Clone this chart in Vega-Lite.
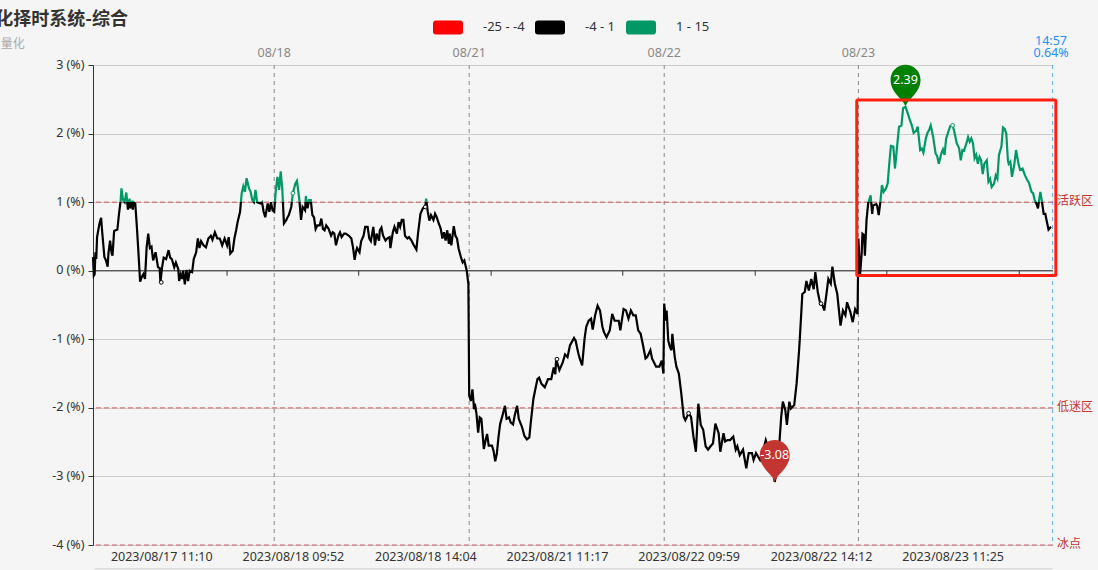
{"$schema":"https://vega.github.io/schema/vega-lite/v6.json","width":960,"height":480,"autosize":{"type":"none"},"padding":{"left":93,"top":65,"right":45,"bottom":25},"background":"#f5f5f5","config":{"view":{"stroke":null},"font":"Noto Sans CJK SC","text":{"font":"Noto Sans CJK SC"}},
"datasets":{"series":[
{"t":0,"v":0.2},{"t":1,"v":-0.07},{"t":2,"v":-0.05},{"t":3,"v":0.27},{"t":4,"v":0.17},{"t":5,"v":0.49},{"t":8,"v":0.69},{"t":10,"v":0.77},{"t":11,"v":0.61},{"t":14,"v":0.2},{"t":16,"v":0.15},{"t":18,"v":0.06},{"t":19,"v":0.25},{"t":21,"v":0.44},{"t":23,"v":0.25},{"t":24,"v":0.22},{"t":26,"v":0.58},{"t":30,"v":0.6},{"t":32,"v":0.83},{"t":34,"v":1.02},{"t":35,"v":1.2},{"t":37,"v":1.03},{"t":39,"v":1},{"t":41,"v":1.14},{"t":43,"v":0.89},{"t":45,"v":1.05},{"t":46,"v":0.91},{"t":48,"v":1.02},{"t":49,"v":0.89},{"t":50,"v":1},{"t":52,"v":0.98},{"t":54,"v":0.64},{"t":56,"v":0.25},{"t":58,"v":-0.16},{"t":60,"v":-0.09},{"t":62,"v":-0.05},{"t":64,"v":-0.12},{"t":66,"v":0.34},{"t":68,"v":0.54},{"t":70,"v":0.33},{"t":72,"v":0.35},{"t":74,"v":0.15},{"t":77,"v":0.27},{"t":80,"v":0.05},{"t":82,"v":0.04},{"t":83,"v":-0.17},{"t":85,"v":0.05},{"t":87,"v":0.19},{"t":90,"v":0.17},{"t":93,"v":0.3},{"t":95,"v":0.19},{"t":97,"v":0.17},{"t":100,"v":0.05},{"t":102,"v":0.12},{"t":105,"v":0.02},{"t":106,"v":-0.15},{"t":108,"v":-0.05},{"t":110,"v":-0.12},{"t":111,"v":0},{"t":113,"v":-0.2},{"t":115,"v":0.01},{"t":117,"v":-0.15},{"t":119,"v":0},{"t":122,"v":-0.02},{"t":124,"v":0.17},{"t":127,"v":0.27},{"t":129,"v":0.47},{"t":131,"v":0.33},{"t":133,"v":0.43},{"t":136,"v":0.37},{"t":139,"v":0.34},{"t":142,"v":0.47},{"t":145,"v":0.51},{"t":147,"v":0.45},{"t":150,"v":0.56},{"t":153,"v":0.47},{"t":156,"v":0.47},{"t":159,"v":0.37},{"t":162,"v":0.47},{"t":165,"v":0.37},{"t":167,"v":0.49},{"t":169,"v":0.25},{"t":172,"v":0.29},{"t":174,"v":0.47},{"t":176,"v":0.58},{"t":178,"v":0.71},{"t":181,"v":0.86},{"t":183,"v":1.13},{"t":185,"v":1.23},{"t":187,"v":1.15},{"t":189,"v":1.35},{"t":192,"v":1.2},{"t":194,"v":1.15},{"t":196,"v":1.03},{"t":198,"v":1},{"t":200,"v":1.18},{"t":202,"v":1},{"t":206,"v":0.98},{"t":208,"v":1},{"t":210,"v":0.86},{"t":212,"v":0.78},{"t":215,"v":0.98},{"t":217,"v":0.86},{"t":219,"v":1},{"t":221,"v":0.88},{"t":223,"v":0.86},{"t":225,"v":1.18},{"t":227,"v":1.37},{"t":229,"v":1.18},{"t":231,"v":1.45},{"t":233,"v":1.18},{"t":235,"v":0.69},{"t":238,"v":0.74},{"t":239,"v":0.77},{"t":241,"v":0.81},{"t":244,"v":0.93},{"t":246,"v":1.13},{"t":249,"v":1.27},{"t":251,"v":1.31},{"t":254,"v":1.03},{"t":256,"v":0.74},{"t":258,"v":0.93},{"t":261,"v":0.88},{"t":262,"v":1.09},{"t":264,"v":0.91},{"t":266,"v":1.03},{"t":268,"v":1.03},{"t":270,"v":0.81},{"t":272,"v":0.78},{"t":274,"v":0.61},{"t":276,"v":0.66},{"t":279,"v":0.66},{"t":281,"v":0.76},{"t":283,"v":0.61},{"t":285,"v":0.59},{"t":287,"v":0.66},{"t":290,"v":0.61},{"t":293,"v":0.51},{"t":295,"v":0.56},{"t":297,"v":0.54},{"t":299,"v":0.37},{"t":302,"v":0.51},{"t":304,"v":0.56},{"t":306,"v":0.49},{"t":309,"v":0.54},{"t":311,"v":0.54},{"t":315,"v":0.51},{"t":318,"v":0.47},{"t":320,"v":0.34},{"t":322,"v":0.16},{"t":324,"v":0.29},{"t":325,"v":0.33},{"t":328,"v":0.27},{"t":330,"v":0.43},{"t":333,"v":0.51},{"t":335,"v":0.64},{"t":338,"v":0.64},{"t":340,"v":0.47},{"t":342,"v":0.43},{"t":345,"v":0.64},{"t":347,"v":0.37},{"t":349,"v":0.54},{"t":352,"v":0.44},{"t":353,"v":0.59},{"t":355,"v":0.63},{"t":357,"v":0.51},{"t":360,"v":0.44},{"t":362,"v":0.47},{"t":365,"v":0.49},{"t":366,"v":0.33},{"t":369,"v":0.56},{"t":371,"v":0.64},{"t":374,"v":0.54},{"t":376,"v":0.71},{"t":378,"v":0.64},{"t":380,"v":0.74},{"t":382,"v":0.74},{"t":384,"v":0.51},{"t":387,"v":0.47},{"t":389,"v":0.49},{"t":392,"v":0.44},{"t":394,"v":0.39},{"t":398,"v":0.31},{"t":400,"v":0.54},{"t":403,"v":0.83},{"t":406,"v":0.91},{"t":409,"v":0.93},{"t":410,"v":1.05},{"t":412,"v":0.86},{"t":414,"v":0.73},{"t":416,"v":0.81},{"t":419,"v":0.74},{"t":421,"v":0.83},{"t":423,"v":0.78},{"t":425,"v":0.71},{"t":428,"v":0.61},{"t":430,"v":0.47},{"t":432,"v":0.56},{"t":434,"v":0.44},{"t":436,"v":0.59},{"t":438,"v":0.39},{"t":439,"v":0.54},{"t":441,"v":0.37},{"t":444,"v":0.65},{"t":446,"v":0.51},{"t":448,"v":0.47},{"t":450,"v":0.32},{"t":453,"v":0.19},{"t":455,"v":0.12},{"t":457,"v":0.15},{"t":460,"v":0},{"t":462,"v":-0.2},{"t":463,"v":-1.82},{"t":465,"v":-1.9},{"t":467,"v":-1.73},{"t":469,"v":-2.02},{"t":470,"v":-1.94},{"t":472,"v":-2.09},{"t":474,"v":-2.36},{"t":476,"v":-2.14},{"t":478,"v":-2.16},{"t":481,"v":-2.6},{"t":483,"v":-2.48},{"t":485,"v":-2.38},{"t":487,"v":-2.55},{"t":491,"v":-2.55},{"t":493,"v":-2.63},{"t":495,"v":-2.78},{"t":497,"v":-2.67},{"t":499,"v":-2.43},{"t":501,"v":-2.24},{"t":504,"v":-2.11},{"t":507,"v":-1.97},{"t":509,"v":-2.16},{"t":512,"v":-2.14},{"t":514,"v":-2.21},{"t":517,"v":-2.24},{"t":519,"v":-2.11},{"t":522,"v":-1.97},{"t":524,"v":-2.16},{"t":528,"v":-2.28},{"t":531,"v":-2.41},{"t":534,"v":-2.46},{"t":537,"v":-2.43},{"t":539,"v":-2.19},{"t":542,"v":-1.87},{"t":544,"v":-1.75},{"t":547,"v":-1.58},{"t":549,"v":-1.56},{"t":552,"v":-1.65},{"t":556,"v":-1.7},{"t":560,"v":-1.58},{"t":564,"v":-1.58},{"t":567,"v":-1.41},{"t":569,"v":-1.51},{"t":570,"v":-1.29},{"t":574,"v":-1.45},{"t":578,"v":-1.34},{"t":581,"v":-1.22},{"t":584,"v":-1.26},{"t":587,"v":-1.09},{"t":592,"v":-0.98},{"t":594,"v":-1.02},{"t":597,"v":-1.19},{"t":599,"v":-1.28},{"t":602,"v":-1.38},{"t":605,"v":-0.99},{"t":607,"v":-0.82},{"t":610,"v":-0.73},{"t":613,"v":-0.7},{"t":615,"v":-0.86},{"t":618,"v":-0.65},{"t":621,"v":-0.51},{"t":624,"v":-0.58},{"t":627,"v":-0.82},{"t":629,"v":-0.9},{"t":632,"v":-0.97},{"t":636,"v":-0.87},{"t":639,"v":-0.63},{"t":642,"v":-0.73},{"t":647,"v":-0.73},{"t":649,"v":-0.87},{"t":653,"v":-0.56},{"t":656,"v":-0.58},{"t":659,"v":-0.7},{"t":662,"v":-0.58},{"t":665,"v":-0.65},{"t":668,"v":-0.65},{"t":671,"v":-0.87},{"t":674,"v":-0.92},{"t":677,"v":-1.09},{"t":680,"v":-1.28},{"t":682,"v":-1.26},{"t":686,"v":-1.16},{"t":688,"v":-1.28},{"t":693,"v":-1.4},{"t":697,"v":-1.4},{"t":700,"v":-1.31},{"t":702,"v":-1.5},{"t":703,"v":-0.48},{"t":705,"v":-0.73},{"t":706,"v":-0.58},{"t":708,"v":-1.02},{"t":710,"v":-1.11},{"t":712,"v":-1.16},{"t":713,"v":-0.92},{"t":716,"v":-1.26},{"t":718,"v":-1.4},{"t":721,"v":-1.5},{"t":724,"v":-1.79},{"t":727,"v":-2.13},{"t":729,"v":-2.18},{"t":733,"v":-2.08},{"t":736,"v":-2.13},{"t":739,"v":-2.42},{"t":742,"v":-2.64},{"t":745,"v":-1.94},{"t":748,"v":-2.25},{"t":751,"v":-2.32},{"t":754,"v":-2.56},{"t":757,"v":-2.61},{"t":760,"v":-2.56},{"t":763,"v":-2.52},{"t":766,"v":-2.23},{"t":770,"v":-2.37},{"t":772,"v":-2.64},{"t":776,"v":-2.37},{"t":778,"v":-2.49},{"t":781,"v":-2.47},{"t":784,"v":-2.47},{"t":788,"v":-2.42},{"t":791,"v":-2.61},{"t":793,"v":-2.56},{"t":796,"v":-2.69},{"t":800,"v":-2.61},{"t":804,"v":-2.88},{"t":807,"v":-2.66},{"t":811,"v":-2.66},{"t":813,"v":-2.76},{"t":816,"v":-2.66},{"t":821,"v":-2.76},{"t":824,"v":-2.66},{"t":828,"v":-2.47},{"t":833,"v":-2.66},{"t":836,"v":-2.85},{"t":839,"v":-3.08},{"t":842,"v":-2.9},{"t":845,"v":-2.47},{"t":847,"v":-2.13},{"t":849,"v":-1.91},{"t":852,"v":-2.03},{"t":854,"v":-2.25},{"t":857,"v":-1.91},{"t":859,"v":-2.01},{"t":863,"v":-1.96},{"t":866,"v":-1.64},{"t":869,"v":-1.16},{"t":870,"v":-0.97},{"t":873,"v":-0.34},{"t":876,"v":-0.31},{"t":878,"v":-0.15},{"t":881,"v":-0.29},{"t":884,"v":-0.12},{"t":887,"v":-0.27},{"t":889,"v":-0.02},{"t":892,"v":-0.31},{"t":895,"v":-0.48},{"t":898,"v":-0.51},{"t":900,"v":-0.58},{"t":903,"v":-0.31},{"t":905,"v":-0.12},{"t":908,"v":-0.19},{"t":910,"v":0.06},{"t":913,"v":-0.19},{"t":916,"v":-0.34},{"t":920,"v":-0.8},{"t":923,"v":-0.58},{"t":926,"v":-0.65},{"t":928,"v":-0.46},{"t":932,"v":-0.6},{"t":935,"v":-0.75},{"t":938,"v":-0.56},{"t":941,"v":-0.63},{"t":942,"v":0.47},{"t":944,"v":-0.07},{"t":946,"v":0.25},{"t":947,"v":0.54},{"t":949,"v":0.52},{"t":950,"v":0.22},{"t":952,"v":0.74},{"t":954,"v":0.98},{"t":957,"v":1.1},{"t":959,"v":0.83},{"t":960,"v":0.95},{"t":964,"v":0.97},{"t":965,"v":0.95},{"t":967,"v":0.81},{"t":969,"v":1},{"t":971,"v":1.25},{"t":973,"v":1.15},{"t":976,"v":1.2},{"t":978,"v":1.27},{"t":980,"v":1.56},{"t":982,"v":1.82},{"t":985,"v":1.81},{"t":987,"v":1.49},{"t":990,"v":1.86},{"t":992,"v":2.1},{"t":995,"v":2.12},{"t":997,"v":2.37},{"t":1000,"v":2.39},{"t":1002,"v":2.32},{"t":1005,"v":2.21},{"t":1008,"v":2.11},{"t":1010,"v":2.01},{"t":1013,"v":2.04},{"t":1015,"v":2.1},{"t":1018,"v":1.76},{"t":1020,"v":1.78},{"t":1022,"v":1.72},{"t":1025,"v":1.93},{"t":1027,"v":2.01},{"t":1029,"v":2.05},{"t":1031,"v":2.12},{"t":1034,"v":1.95},{"t":1037,"v":1.71},{"t":1039,"v":1.67},{"t":1041,"v":1.56},{"t":1044,"v":1.71},{"t":1046,"v":1.77},{"t":1048,"v":1.69},{"t":1050,"v":1.93},{"t":1052,"v":2},{"t":1055,"v":2.11},{"t":1058,"v":2.12},{"t":1060,"v":2.03},{"t":1063,"v":1.86},{"t":1065,"v":1.81},{"t":1066,"v":1.78},{"t":1068,"v":1.61},{"t":1070,"v":1.76},{"t":1072,"v":1.75},{"t":1075,"v":1.86},{"t":1077,"v":1.95},{"t":1079,"v":1.88},{"t":1081,"v":1.93},{"t":1083,"v":1.86},{"t":1085,"v":1.64},{"t":1087,"v":1.69},{"t":1089,"v":1.56},{"t":1091,"v":1.66},{"t":1093,"v":1.61},{"t":1095,"v":1.41},{"t":1097,"v":1.56},{"t":1100,"v":1.61},{"t":1102,"v":1.3},{"t":1104,"v":1.34},{"t":1106,"v":1.22},{"t":1109,"v":1.27},{"t":1111,"v":1.39},{"t":1113,"v":1.34},{"t":1115,"v":1.69},{"t":1118,"v":1.81},{"t":1120,"v":2.09},{"t":1122,"v":2.07},{"t":1124,"v":2},{"t":1126,"v":1.61},{"t":1127,"v":1.56},{"t":1129,"v":1.59},{"t":1131,"v":1.37},{"t":1134,"v":1.56},{"t":1136,"v":1.76},{"t":1139,"v":1.56},{"t":1141,"v":1.47},{"t":1144,"v":1.49},{"t":1147,"v":1.39},{"t":1150,"v":1.32},{"t":1152,"v":1.28},{"t":1155,"v":1.15},{"t":1157,"v":1.13},{"t":1159,"v":1.03},{"t":1161,"v":0.98},{"t":1163,"v":0.91},{"t":1165,"v":1.08},{"t":1166,"v":1.15},{"t":1168,"v":1},{"t":1170,"v":0.83},{"t":1172,"v":0.83},{"t":1174,"v":0.71},{"t":1176,"v":0.6},{"t":1179,"v":0.64}
]},
"encoding":{"x":{"field":"t","type":"quantitative","scale":{"domain":[0,1181.5],"nice":false,"zero":false},"title":null,"axis":{"values":[84,246,409,571,733,896,1058],"labelExpr":"['2023/08/17 11:10','2023/08/18 09:52','2023/08/18 14:04','2023/08/21 11:17','2023/08/22 09:59','2023/08/22 14:12','2023/08/23 11:25'][indexof([84,246,409,571,733,896,1058],datum.value)]","domain":false,"ticks":false,"grid":false,"labelPadding":5,"labelFontSize":12.5,"labelColor":"#333","labelFont":"Noto Sans","labelOverlap":false,"labelFlush":false}},"y":{"field":"v","type":"quantitative","scale":{"domain":[-4,3],"nice":false,"zero":false},"title":null,"axis":{"values":[-4,-3,-2,-1,0,1,2,3],"labelExpr":"datum.value + ' (%)'","grid":true,"gridColor":"#ccc","gridWidth":1,"domainColor":"#333","tickColor":"#333","tickSize":5,"labelPadding":4,"labelOffset":-1,"labelFontSize":12.5,"labelColor":"#333","labelFont":"Noto Sans"}}},
"layer":[
{"data":{"values":[{"t":223,"k":"08/18"},{"t":463,"k":"08/21"},{"t":703,"k":"08/22"},{"t":942,"k":"08/23"}]},"mark":{"type":"rule","color":"#888","strokeDash":[4,4],"strokeWidth":1},"encoding":{"y":null}},
{"data":{"values":[{"t":1181}]},"mark":{"type":"rule","color":"#1e90ff","strokeDash":[4,4],"strokeWidth":1,"opacity":0.7},"encoding":{"y":null}},
{"data":{"values":[{"v":1},{"v":-2},{"v":-4}]},"mark":{"type":"rule","color":"#c23531","strokeDash":[5,3],"strokeWidth":1,"opacity":0.75},"encoding":{"x":null}},
{"data":{"values":[{"v":0}]},"mark":{"type":"rule","color":"#333","strokeWidth":1},"encoding":{"x":null}},
{"data":{"values":[{"t":2,"v":0,"v2":-0.073},{"t":165,"v":0,"v2":-0.073},{"t":327,"v":0,"v2":-0.073},{"t":490,"v":0,"v2":-0.073},{"t":652,"v":0,"v2":-0.073},{"t":815,"v":0,"v2":-0.073},{"t":977,"v":0,"v2":-0.073},{"t":1140,"v":0,"v2":-0.073}]},"mark":{"type":"rule","color":"#333","strokeWidth":1},"encoding":{"y2":{"field":"v2"}}},
{"data":{"values":[{"t":2,"t2":1181,"v":-4.345}]},"mark":{"type":"rule","color":"#ddd","strokeWidth":1.5},"encoding":{"x2":{"field":"t2"}}},
{"data":{"name":"series"},"mark":{"type":"line","strokeWidth":2.2,"interpolate":"linear","color":{"gradient":"linear","x1":0,"y1":0,"x2":0,"y2":1,"stops":[{"offset":0,"color":"#009966"},{"offset":0.2541,"color":"#009966"},{"offset":0.2541,"color":"#000000"},{"offset":1,"color":"#000000"}]}}},
{"data":{"values":[{"t":84,"v":-0.17,"b":"-4 - 1"},{"t":246,"v":1.13,"b":"1 - 15"},{"t":409,"v":0.93,"b":"-4 - 1"},{"t":571,"v":-1.29,"b":"-4 - 1"},{"t":733,"v":-2.08,"b":"-4 - 1"},{"t":896,"v":-0.48,"b":"-4 - 1"},{"t":1058,"v":2.12,"b":"1 - 15"}]},"mark":{"type":"point","filled":false,"fill":"#f5f5f5","size":14,"strokeWidth":1,"opacity":1},"encoding":{"stroke":{"field":"b","type":"nominal","scale":{"domain":["-4 - 1","1 - 15"],"range":["#000000","#009966"]},"legend":null}}},
{"data":{"values":[{"t":1000,"v":2.39,"c":"#008000","l":"2.39"},{"t":839,"v":-3.08,"c":"#c23531","l":"-3.08"}]},"layer":[{"mark":{"type":"point","filled":true,"opacity":1,"size":900,"shape":"M0,0 C-0.15,-0.55 -1,-0.9 -1,-1.8 A1,1 0 1 1 1,-1.8 C1,-0.9 0.15,-0.55 0,0 Z"},"encoding":{"fill":{"field":"c","type":"nominal","scale":null}}},{"mark":{"type":"text","color":"#fff","font":"Noto Sans","fontSize":12.5,"dy":-27,"baseline":"middle"},"encoding":{"text":{"field":"l"}}}]},
{"data":{"values":[{"t":940,"t2":1185,"v":2.49,"v2":-0.07}]},"mark":{"type":"rect","filled":false,"stroke":"#ff2010","strokeWidth":3,"cornerRadius":1},"encoding":{"x2":{"field":"t2"},"y2":{"field":"v2"}}},
{"data":{"values":[{"t":223,"v":3.18,"l":"08/18"},{"t":463,"v":3.18,"l":"08/21"},{"t":703,"v":3.18,"l":"08/22"},{"t":942,"v":3.18,"l":"08/23"}]},"mark":{"type":"text","color":"#888","font":"Noto Sans","fontSize":12.5,"baseline":"middle"},"encoding":{"text":{"field":"l"}}},
{"data":{"values":[{"t":1179,"v":3.35,"l":"14:57"},{"t":1179,"v":3.18,"l":"0.64%"}]},"mark":{"type":"text","color":"#1e90ff","font":"Noto Sans","fontSize":12.5,"baseline":"middle"},"encoding":{"text":{"field":"l"}}},
{"data":{"values":[{"t":1181.5,"v":1,"l":"活跃区"},{"t":1181.5,"v":-2,"l":"低迷区"},{"t":1181.5,"v":-4,"l":"冰点"}]},"mark":{"type":"text","color":"#c23531","fontSize":12,"align":"left","dx":4,"dy":-1,"baseline":"middle"},"encoding":{"text":{"field":"l"}}},
{"data":{"values":[{"t":43,"v":3.66,"l":"量化择时系统-综合"}]},"mark":{"type":"text","color":"#333","fontSize":18,"fontWeight":"bold","align":"right","baseline":"middle"},"encoding":{"text":{"field":"l"}}},
{"data":{"values":[{"t":-84,"v":3.31,"l":"量化"}]},"mark":{"type":"text","color":"#aaa","fontSize":12,"align":"right","baseline":"middle"},"encoding":{"text":{"field":"l"}}},
{"data":{"values":[{"b":"-25 - -4"},{"b":"-4 - 1"},{"b":"1 - 15"}]},"mark":{"type":"point","filled":true,"opacity":0,"size":10},"encoding":{"x":null,"y":null,"color":{"field":"b","type":"nominal","scale":{"domain":["-25 - -4","-4 - 1","1 - 15"],"range":["#ff0000","#000000","#009966"]},"legend":{"title":null,"orient":"none","legendX":340,"legendY":-53,"direction":"horizontal","columns":3,"columnPadding":10,"padding":0,"symbolType":"M-0.8,-0.47 H0.8 Q1,-0.47 1,-0.27 V0.27 Q1,0.47 0.8,0.47 H-0.8 Q-1,0.47 -1,0.27 V-0.27 Q-1,-0.47 -0.8,-0.47 Z","symbolSize":900,"symbolOpacity":1,"symbolStrokeWidth":0,"labelOffset":20,"labelFontSize":13,"labelColor":"#333","labelFont":"Noto Sans"}}}}
],"resolve":{"scale":{"color":"independent","fill":"independent","stroke":"independent"}}}
